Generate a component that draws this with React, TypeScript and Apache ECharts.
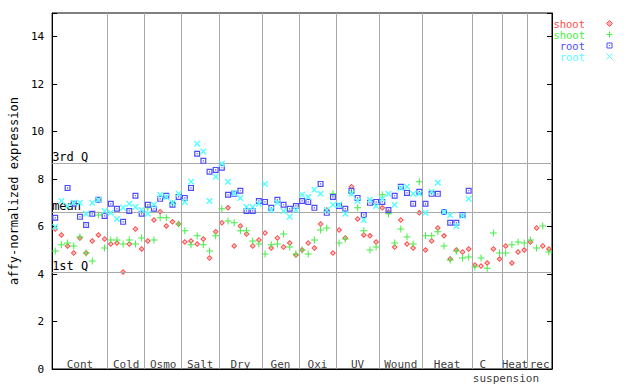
import React, { useEffect, useRef } from "react";
import * as echarts from "echarts";

const MONO = "DejaVu Sans Mono";

// group labels and their boundaries (in sample-index units)
const groupNames = ["Cont", "Cold", "Osmo", "Salt", "Dry", "Gen", "Oxi", "UV", "Wound", "Heat", " C\nsuspension", "Heat", "rec"];
const groupEdges = [0, 9, 15, 21, 27, 34, 40, 46, 53, 60, 68, 73, 77, 81];

// shoot, replicate 1 (red diamonds)
const shootRep1 = [
  5.90, 5.65, 5.18, 4.89, 5.52, 4.89, 5.39, 5.65, 5.48,
  5.27, 5.31, 4.09, 5.27, 5.90, 5.06,
  5.39, 6.28, 6.63, 6.03, 6.20, 6.11,
  5.35, 5.39, 5.27, 5.48, 4.68, 5.78,
  6.16, 6.79, 5.18, 6.03, 5.69, 5.18, 5.44,
  5.73, 5.10, 5.52, 5.14, 5.31, 4.80,
  5.01, 5.31, 5.10, 6.11, 6.70, 4.89,
  5.86, 5.52, 7.68, 6.32, 5.65, 5.61, 5.35,
  6.79, 6.60, 5.14, 6.28, 5.27, 5.10, 6.58,
  5.01, 5.39, 5.94, 5.61, 4.63, 5.01, 4.93, 5.06,
  4.38, 4.34, 4.47, 5.06, 4.63,
  5.18, 4.47, 4.93, 5.01,
  5.35, 5.94, 5.18, 5.06,
];

// shoot, replicate 2 (green crosses)
const shootRep2 = [
  4.97, 5.23, 5.31, 5.18, 5.56, 4.89, 4.55, 6.49, 5.10,
  5.44, 5.44, 5.27, 5.44, 5.27, 5.52,
  6.79, 5.44, 6.37, 6.37, 6.96, 6.11,
  5.82, 5.23, 5.61, 5.23, 4.97, 5.61,
  6.75, 6.24, 6.16, 5.82, 5.82, 5.39, 5.27,
  4.85, 5.23, 5.27, 5.69, 5.14, 4.85,
  5.01, 4.85, 5.44, 5.86, 5.94, 7.38,
  5.31, 5.48, 7.45, 6.79, 5.82, 5.01, 5.14,
  7.34, 6.54, 5.31, 5.90, 5.56, 5.27, 7.89,
  5.61, 5.61, 5.78, 5.18, 4.59, 4.97, 4.68, 4.72,
  4.30, 4.68, 4.25, 5.73, 4.89,
  4.89, 5.23, 5.35, 5.31,
  5.44, 5.10, 6.03, 4.93,
];

// root, replicate 1 (blue squares)
const rootRep1 = [
  6.37, null, 7.63, 6.96, 6.41, 6.07, 6.54, 7.13, 6.45,
  6.96, 6.75, 6.20, 6.66, 7.30, 6.54,
  6.92, 6.75, 7.17, 7.30, 6.92, 7.25,
  7.21, 7.63, 9.07, 8.77, 8.31, 8.39,
  8.48, 7.34, 7.38, 7.51, 6.66, 6.66, 7.08,
  7.04, 6.79, 7.13, 6.92, 6.75, 6.87,
  7.08, 7.04, 6.79, 7.80, 6.58, 7.25,
  6.87, 6.75, 7.51, 7.21, 6.49, 7.00, 7.04,
  7.04, 6.70, 7.30, 7.68, 7.42, 6.96, 7.47,
  6.96, 7.38, 7.38, 6.62, 6.16, 6.16, 6.49, 7.51,
];

// root, replicate 2 (cyan x)
const rootRep2 = [
  5.99, 7.08, 6.87, 7.00, 7.00, 6.54, 7.00, 7.13, 6.66,
  6.58, 6.32, 6.79, 6.96, 6.83, 6.70,
  6.54, 6.92, 7.34, 7.25, 7.00, 7.38,
  7.04, 7.89, 9.49, 9.16, 7.08, 8.10,
  8.65, 7.89, 7.42, 7.21, 6.83, 6.83, 6.96,
  7.80, 6.70, 7.00, 6.66, 6.41, 6.70,
  7.34, 7.25, 7.55, 7.38, 6.70, 6.92,
  6.92, 6.54, 7.38, 7.08, 6.28, 7.13, 6.87,
  7.17, 7.38, 6.92, 7.63, 7.68, 7.38, 7.38,
  6.58, 7.47, 7.85, 6.62, 6.49, 6.03, 6.45, 7.17,
];

const refNames = ["1st Q", "mean", "3rd Q"];
const refValues = [4.09, 6.62, 8.69];

const legendNames = ["shoot", "shoot", "root", "root"];
const COLORS = ["#ff4c4c", "#44ee44", "#4c4cff", "#55ffff"];

const SYM_DIAMOND = "path://M3.5,0L7,3.5L3.5,7L0,3.5Z M3.5,1.8L1.8,3.5L3.5,5.2L5.2,3.5Z M3.5,2.8L4.2,3.5L3.5,4.2L2.8,3.5Z";
const SYM_PLUS = "path://M3,0h1v3h3v1h-3v3h-1v-3h-3v-1h3z";
const SYM_SQUARE = "path://M0,0h5v5h-5z M1,1v3h3v-3z M2,2h1v1h-1z";
const SYM_X = "path://M0,0L1,0L3,2L5,0L6,0L6,1L4,3L6,5L6,6L5,6L3,4L1,6L0,6L0,5L2,3L0,1Z";

const toPoints = (arr: (number | null)[]) =>
  arr.map((v, i) => (v == null ? null : [i + 0.5, v])).filter((p) => p !== null);

export default function App() {
  const ref = useRef<HTMLDivElement>(null);
  useEffect(() => {
    if (!ref.current) return;
    const chart = echarts.init(ref.current, undefined, { renderer: "svg" });

    const labelData = groupNames.map((name, k) => {
      const isSusp = name.indexOf("suspension") >= 0;
      const x = isSusp ? groupEdges[k] : (groupEdges[k] + groupEdges[k + 1]) / 2;
      return {
        value: [x, 0],
        name,
        label: isSusp ? { align: "left", offset: [1, -12] } : undefined,
      };
    });

    const vLines = groupEdges.slice(1, -1).map((e) => ({ xAxis: e, label: { show: false } }));
    const hLines = refValues.map((v, k) => ({ yAxis: v, name: refNames[k] }));

    const symbolSeries = [
      { data: shootRep1, symbol: SYM_DIAMOND, size: 6 },
      { data: shootRep2, symbol: SYM_PLUS, size: 7 },
      { data: rootRep1, symbol: SYM_SQUARE, size: 6 },
      { data: rootRep2, symbol: SYM_X, size: 6 },
    ].map((s, k) => ({
      type: "scatter",
      name: legendNames[k] + k,
      data: toPoints(s.data),
      symbol: s.symbol,
      symbolSize: s.size,
      itemStyle: { color: COLORS[k], opacity: 1 },
      z: 3 + k,
      silent: true,
    }));

    const legendGraphics: any[] = [];
    const ly = [23.5, 34.5, 45.5, 56.5];
    legendNames.forEach((n, k) => {
      legendGraphics.push({
        type: "text",
        x: 585,
        y: ly[k],
        style: { text: n, fill: COLORS[k], font: `10.5px "${MONO}"`, textAlign: "right", textVerticalAlign: "middle" },
      });
    });
    const cx = 609.5;
    legendGraphics.push({
      type: "polygon",
      shape: { points: [[cx, ly[0] - 3], [cx + 3, ly[0]], [cx, ly[0] + 3], [cx - 3, ly[0]]] },
      style: { fill: "#ffb0b0", stroke: COLORS[0], lineWidth: 1 },
    });
    legendGraphics.push({ type: "line", shape: { x1: cx - 3, y1: ly[1], x2: cx + 3, y2: ly[1] }, style: { stroke: COLORS[1], lineWidth: 1 } });
    legendGraphics.push({ type: "line", shape: { x1: cx, y1: ly[1] - 3, x2: cx, y2: ly[1] + 3 }, style: { stroke: COLORS[1], lineWidth: 1 } });
    legendGraphics.push({ type: "rect", shape: { x: cx - 2.5, y: ly[2] - 2.5, width: 5, height: 5 }, style: { fill: "none", stroke: COLORS[2], lineWidth: 1 } });
    legendGraphics.push({ type: "rect", shape: { x: cx - 0.5, y: ly[2] - 0.5, width: 1, height: 1 }, style: { fill: COLORS[2] } });
    legendGraphics.push({ type: "line", shape: { x1: cx - 3, y1: ly[3] - 3, x2: cx + 3, y2: ly[3] + 3 }, style: { stroke: COLORS[3], lineWidth: 1 } });
    legendGraphics.push({ type: "line", shape: { x1: cx - 3, y1: ly[3] + 3, x2: cx + 3, y2: ly[3] - 3 }, style: { stroke: COLORS[3], lineWidth: 1 } });

    const option: any = {
      animation: false,
      backgroundColor: "#ffffff",
      grid: {
        left: 44, top: 13, width: 508, height: 356,
        show: true, borderColor: "#000", borderWidth: 1, backgroundColor: "transparent",
      },
      xAxis: {
        type: "value", min: 0, max: 81,
        axisLine: { show: true, lineStyle: { color: "#000" } },
        axisTick: { show: false }, axisLabel: { show: false }, splitLine: { show: false },
      },
      yAxis: [
        {
          type: "value", position: "left", min: 0, max: 15, interval: 2,
          axisLine: { show: true, lineStyle: { color: "#000" } },
          axisTick: { show: true, inside: true, length: 5, lineStyle: { color: "#000" } },
          axisLabel: { color: "#000", fontFamily: MONO, fontSize: 11, margin: 8, formatter: (v: number) => (v > 14 ? "" : String(v)) },
          splitLine: { show: false },
          name: "affy-normalized expression", nameLocation: "middle", nameGap: 26,
          nameTextStyle: { color: "#000", fontFamily: MONO, fontSize: 12 },
        },
        {
          type: "value", position: "right", min: 0, max: 15, interval: 2,
          axisLine: { show: true, lineStyle: { color: "#000" } },
          axisTick: { show: true, inside: true, length: 5, lineStyle: { color: "#000" } },
          axisLabel: { show: false }, splitLine: { show: false },
        },
      ],
      graphic: legendGraphics,
      series: [
        {
          type: "scatter",
          name: "groups",
          data: labelData,
          symbolSize: 1,
          itemStyle: { color: "transparent" },
          silent: true,
          z: 1,
          label: {
            show: true,
            position: "inside",
            formatter: (p: any) => p.name,
            color: "#000",
            fontFamily: MONO,
            fontSize: 11,
            lineHeight: 14,
            align: "center",
            verticalAlign: "top",
            offset: [0, -12],
          },
          markLine: {
            silent: true,
            symbol: ["none", "none"],
            animation: false,
            lineStyle: { color: "#a8a8a8", type: "solid", width: 1 },
            label: {
              show: true,
              position: "insideStartTop",
              formatter: (p: any) => p.name,
              color: "#000",
              fontFamily: MONO,
              fontSize: 12,
              distance: [0, 0],
              padding: 0,
            },
            data: [...vLines, ...hLines],
          },
        },
        ...symbolSeries,
      ],
    };
    chart.setOption(option);
    return () => chart.dispose();
  }, []);
  return (
    <div
      ref={ref}
      style={{ position: "fixed", left: 0, top: 0, width: 640, height: 384, background: "#fff" }}
    />
  );
}
